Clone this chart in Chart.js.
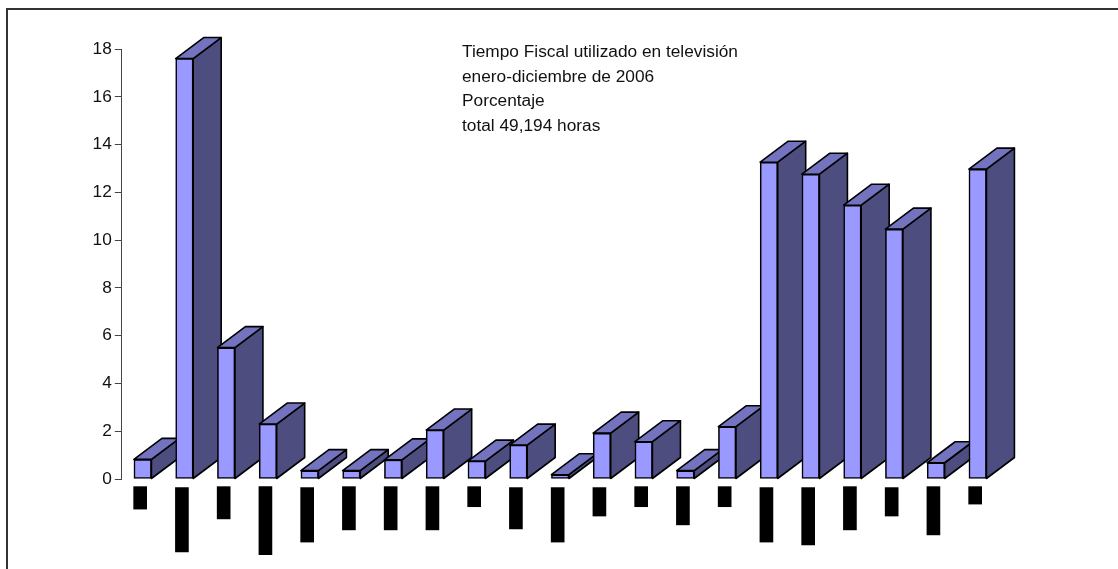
<!DOCTYPE html>
<html>
<head>
<meta charset="utf-8">
<title>Tiempo Fiscal</title>
<script src="https://cdn.jsdelivr.net/npm/chart.js@4/dist/chart.umd.js"></script>
<style>
    html, body { margin: 0; padding: 0; background: #fff; }
    #wrap { position: relative; width: 1118px; height: 569px; overflow: hidden; }
    #frame { position: absolute; left: 6px; top: 8px; width: 1120px; height: 570px; border-left: 2px solid #333; border-top: 2px solid #333; }
    canvas { position: absolute; left: 0; top: 0; }
</style>
</head>
<body>
<div id="wrap">
    <div id="frame"></div>
    <canvas id="tiempo_fiscal" width="1118" height="569"></canvas>
</div>
<script>
const categories = ["1", "2", "3", "4", "5", "6", "7", "8", "9", "10", "11", "12", "13", "14", "15", "16", "17", "18", "19", "20", "21"];
const porcentaje = [0.82, 17.6, 5.5, 2.3, 0.35, 0.35, 0.8, 2.05, 0.75, 1.42, 0.18, 1.92, 1.56, 0.35, 2.19, 13.26, 12.76, 11.46, 10.46, 0.68, 12.97];
// black blocks under each column: where they start and end on the same value axis
const blockStart = [-0.32, -0.36, -0.32, -0.32, -0.36, -0.32, -0.32, -0.32, -0.32, -0.36, -0.36, -0.36, -0.32, -0.32, -0.32, -0.36, -0.36, -0.32, -0.36, -0.32, -0.32];
const blockEnd = [-1.26, -3.05, -1.67, -3.17, -2.64, -2.13, -2.13, -2.13, -1.16, -2.09, -2.64, -1.55, -1.16, -1.92, -1.16, -2.64, -2.76, -2.13, -1.55, -2.34, -1.05];
const titleLines = ["Tiempo Fiscal utilizado en televisión", "enero-diciembre de 2006", "Porcentaje", "total 49,194 horas"];

const DEPTH_X = 28;
const DEPTH_Y = 21;

// chart.js has no 3d bars any more, so the side and top faces are painted
// behind the normal bar elements
const extrude = {
    id: "extrude",
    beforeDatasetDraw(chart, args) {
        if (args.index !== 0) return;
        const ctx = chart.ctx;
        ctx.save();
        ctx.lineWidth = 1.6;
        ctx.strokeStyle = "#000";
        ctx.lineJoin = "round";
        args.meta.data.forEach((bar) => {
            const p = bar.getProps(["x", "y", "base", "width"], true);
            const l = p.x - p.width / 2;
            const r = p.x + p.width / 2;
            ctx.fillStyle = "#4D4D80";
            ctx.beginPath();
            ctx.moveTo(r, p.base);
            ctx.lineTo(r + DEPTH_X, p.base - DEPTH_Y);
            ctx.lineTo(r + DEPTH_X, p.y - DEPTH_Y);
            ctx.lineTo(r, p.y);
            ctx.closePath();
            ctx.fill();
            ctx.stroke();
            ctx.fillStyle = "#7373BF";
            ctx.beginPath();
            ctx.moveTo(l, p.y);
            ctx.lineTo(l + DEPTH_X, p.y - DEPTH_Y);
            ctx.lineTo(r + DEPTH_X, p.y - DEPTH_Y);
            ctx.lineTo(r, p.y);
            ctx.closePath();
            ctx.fill();
            ctx.stroke();
        });
        ctx.restore();
    },
};

const titleBlock = {
    id: "titleBlock",
    afterDraw(chart) {
        const ctx = chart.ctx;
        ctx.save();
        ctx.font = '17.3px "Liberation Sans"';
        ctx.fillStyle = "#111";
        ctx.textBaseline = "alphabetic";
        titleLines.forEach((line, i) => ctx.fillText(line, 462, 57 + i * 24.5));
        ctx.restore();
    },
};

new Chart(document.getElementById("tiempo_fiscal"), {
    type: "bar",
    data: {
        labels: categories,
        datasets: [
            {
                data: porcentaje,
                backgroundColor: "#9999FF",
                borderColor: "#000",
                borderWidth: 1.6,
                borderSkipped: false,
                barThickness: 17.5,
                grouped: false,
                order: 2,
            },
            {
                // linear x scale, nudged so the blocks sit at the left of each column
                xAxisID: "xBlocks",
                data: categories.map((c, i) => ({ x: i, y: [blockStart[i], blockEnd[i]] })),
                backgroundColor: "#000",
                borderWidth: 0,
                barThickness: 13,
                grouped: false,
                clip: false,
                order: 1,
            },
        ],
    },
    plugins: [extrude, titleBlock],
    options: {
        responsive: false,
        animation: false,
        layout: { padding: { top: 49, bottom: 90, left: 0, right: 119.45 } },
        plugins: {
            legend: { display: false },
            tooltip: { enabled: false },
        },
        scales: {
            x: {
                display: false,
                offset: true,
            },
            xBlocks: {
                type: "linear",
                display: false,
                offset: false,
                min: -0.44,
                max: 20.56,
            },
            y: {
                min: 0,
                max: 18,
                afterFit: (scale) => { scale.width = 121.8; },
                border: { color: "#444", width: 1 },
                grid: { display: true, drawOnChartArea: false, drawTicks: true, tickLength: 7, color: "#444" },
                ticks: {
                    stepSize: 2,
                    padding: 3,
                    color: "#111",
                    font: { family: "Liberation Sans", size: 17.3 },
                },
            },
        },
    },
});
</script>
</body>
</html>
